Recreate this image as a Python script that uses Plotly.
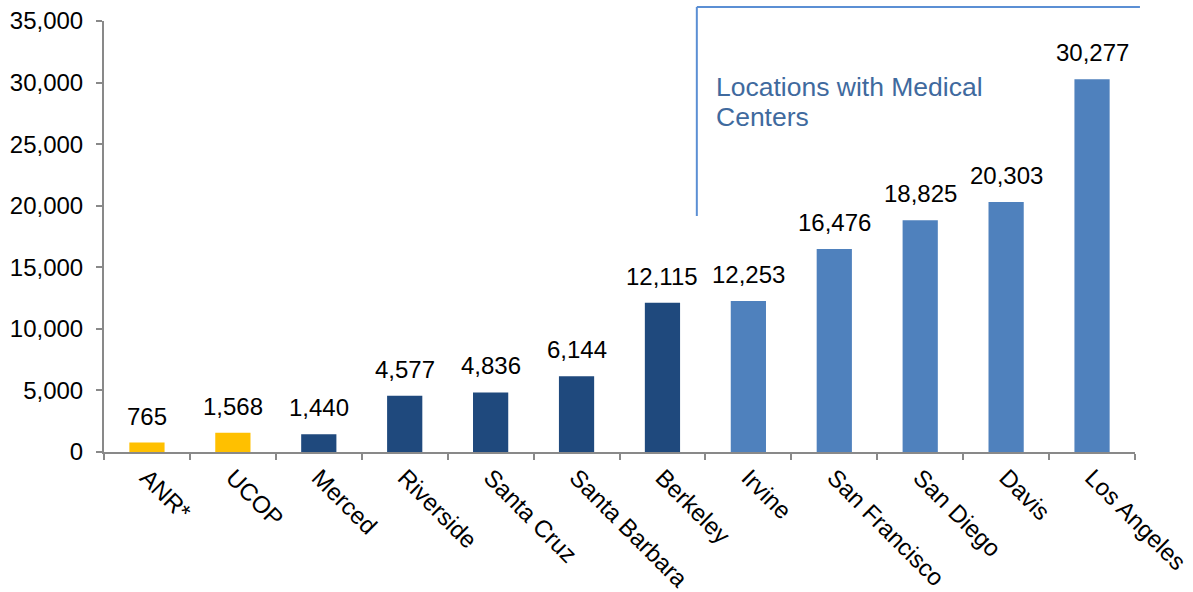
import plotly.graph_objects as go

categories = ["ANR*", "UCOP", "Merced", "Riverside", "Santa Cruz", "Santa Barbara",
              "Berkeley", "Irvine", "San Francisco", "San Diego", "Davis", "Los Angeles"]
values = [765, 1568, 1440, 4577, 4836, 6144, 12115, 12253, 16476, 18825, 20303, 30277]
groups = ["other", "other", "campus", "campus", "campus", "campus", "campus",
          "medical", "medical", "medical", "medical", "medical"]
y_ticks = [0, 5000, 10000, 15000, 20000, 25000, 30000, 35000]
note_lines = ["Locations with Medical", "Centers"]

color_map = {"other": "#FFC000", "campus": "#1F497D", "medical": "#4F81BD"}
colors = [color_map[g] for g in groups]
FONT = "Liberation Sans, Arial"

fig = go.Figure(go.Bar(
    x=categories, y=values, marker=dict(color=colors, line=dict(width=0)),
    width=0.41, hoverinfo="x+y",
))

label_annotations = [
    dict(x=c, y=v, xref="x", yref="y", text=f"{v:,}", showarrow=False,
         xanchor="center", yanchor="bottom", yshift=11,
         font=dict(size=24, color="#000000", family=FONT))
    for c, v in zip(categories, values)
]

note_annotations = [
    dict(text=t, xref="paper", yref="paper", x=0.592, y=0.847 - i * 0.0696,
         xanchor="left", yanchor="middle", align="left", showarrow=False,
         font=dict(size=26.5, color="#3F6A9E", family=FONT))
    for i, t in enumerate(note_lines)
]

fig.update_layout(
    width=1193, height=592,
    margin=dict(l=104, r=58, t=21, b=140, autoexpand=False),
    plot_bgcolor="white", paper_bgcolor="white",
    font=dict(family=FONT, size=24, color="#000000"),
    showlegend=False,
    xaxis=dict(type="category", tickangle=45, showline=True, linecolor="#898989", linewidth=2,
               ticks="outside", tickson="boundaries", ticklen=6, tickcolor="#898989", tickwidth=2,
               showgrid=False, tickfont=dict(size=24), automargin=False),
    yaxis=dict(range=[0, 35000], tickvals=y_ticks, tickformat=",", showline=True,
               linecolor="#898989", linewidth=2, ticks="outside", ticklen=6, tickcolor="#898989",
               tickwidth=2, showgrid=False, zeroline=False, tickfont=dict(size=24),
               automargin=False, ticklabelstandoff=8),
    shapes=[
        dict(type="line", xref="paper", yref="paper", x0=0.575, x1=1.0048, y0=1.0325, y1=1.0325,
             line=dict(color="#5B8FD4", width=2)),
        dict(type="line", xref="paper", yref="paper", x0=0.575, x1=0.575, y0=1.0325, y1=0.5476,
             line=dict(color="#5B8FD4", width=2)),
    ],
    annotations=label_annotations + note_annotations,
)

fig.write_html("out.html", config={"displayModeBar": False},
               post_script="document.body.style.margin='0';")
